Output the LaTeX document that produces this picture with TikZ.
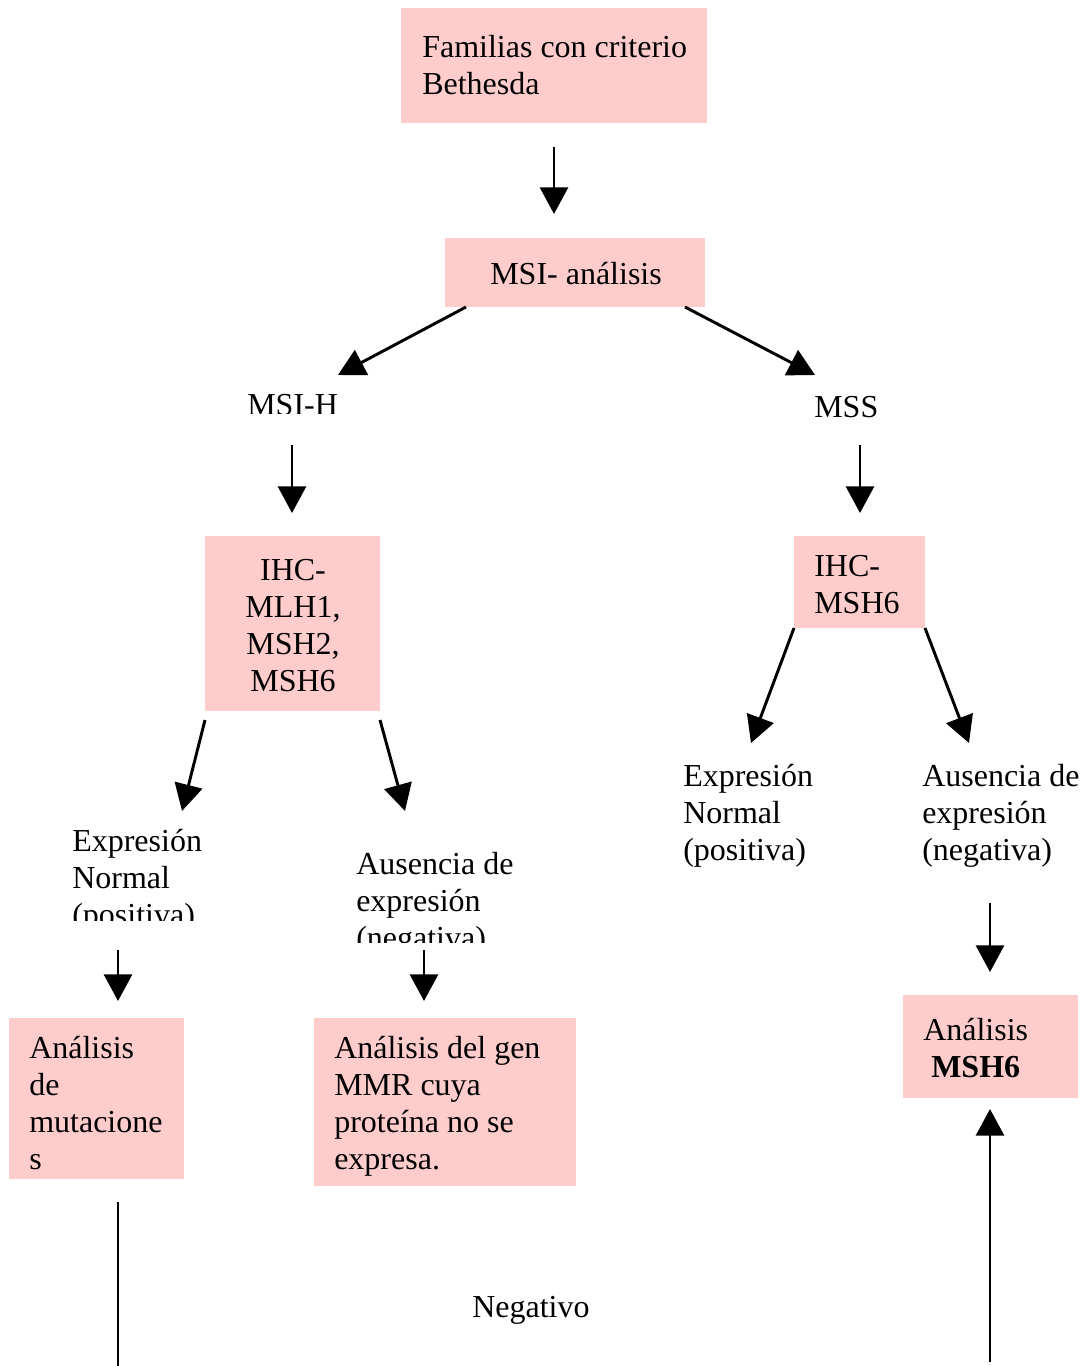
\documentclass[tikz,border=0pt]{standalone}
\usepackage{fontspec}
\setmainfont{Liberation Serif}
\usetikzlibrary{arrows.meta}
\definecolor{boxpink}{HTML}{FFCCCC}
\begin{document}
\begin{tikzpicture}[x=0.75pt,y=-0.75pt,
  pbox/.style={fill=boxpink,draw=none,inner sep=0pt,rectangle},
  txt/.style={inner sep=0pt,anchor=base west,font=\fontsize{24}{27.75}\selectfont},
  ctxt/.style={txt,anchor=base},
  arr/.style={line width=2.2pt,-{Triangle[length=20pt,width=21pt]}},
  plain/.style={line width=2.2pt}]
\useasboundingbox (0,0) rectangle (1085,1366);
% boxes
\path[pbox] (401,8) rectangle (707,123) node[pos=0.5] (b1) {};
\path[pbox] (445,238) rectangle (705,307) node[pos=0.5] (b2) {};
\path[pbox] (205,536) rectangle (380,711) node[pos=0.5] (b3) {};
\path[pbox] (794,536) rectangle (925,628) node[pos=0.5] (b4) {};
\path[pbox] (9,1018) rectangle (184,1179) node[pos=0.5] (b5) {};
\path[pbox] (314,1018) rectangle (576,1186) node[pos=0.5] (b6) {};
\path[pbox] (903,995) rectangle (1078,1098) node[pos=0.5] (b7) {};
% texts
\node[txt] (t1) at (422,58) {\begin{tabular}[t]{@{}l@{}}Familias con criterio\\Bethesda\end{tabular}};
\node[txt] (t2) at (490,284) {MSI- análisis};
\begin{scope}
\clip (230,380) rectangle (360,413);
\node[txt] (t3) at (247,415) {MSI-H};
\end{scope}
\node[txt] (t4) at (814,417) {MSS};
\node[ctxt] (t5) at (293,580) {\begin{tabular}[t]{@{}c@{}}IHC-\\MLH1,\\MSH2,\\MSH6\end{tabular}};
\node[txt] (t6) at (814,576) {\begin{tabular}[t]{@{}l@{}}IHC-\\MSH6\end{tabular}};
\begin{scope}
\clip (60,815) rectangle (240,920);
\node[txt] (t7) at (72,851) {\begin{tabular}[t]{@{}l@{}}Expresión\\Normal\\(positiva)\end{tabular}};
\end{scope}
\begin{scope}
\clip (340,835) rectangle (540,942);
\node[txt] (t8) at (356,874) {\begin{tabular}[t]{@{}l@{}}Ausencia de\\expresión\\(negativa)\end{tabular}};
\end{scope}
\node[txt] (t9) at (683,786) {\begin{tabular}[t]{@{}l@{}}Expresión\\Normal\\(positiva)\end{tabular}};
\node[txt] (t10) at (922,786) {\begin{tabular}[t]{@{}l@{}}Ausencia de\\expresión\\(negativa)\end{tabular}};
\node[txt] (t11) at (29,1058) {\begin{tabular}[t]{@{}l@{}}Análisis\\de\\mutacione\\s\end{tabular}};
\node[txt] (t12) at (334,1058) {\begin{tabular}[t]{@{}l@{}}Análisis del gen\\MMR cuya\\proteína no se\\expresa.\end{tabular}};
\node[txt] (t13) at (923,1040) {Análisis};
\node[txt] (t14) at (931,1077) {\textbf{MSH6}};
\node[txt] (t15) at (472,1317) {Negativo};
% connector end points
\coordinate (a1s) at (554,147); \coordinate (a1e) at (554,214);
\coordinate (a2s) at (466,307); \coordinate (a2e) at (338,375);
\coordinate (a3s) at (685,307); \coordinate (a3e) at (815,375);
\coordinate (a4s) at (292,445); \coordinate (a4e) at (292,513);
\coordinate (a5s) at (860,445); \coordinate (a5e) at (860,513);
\coordinate (a6s) at (205,720); \coordinate (a6e) at (182,811);
\coordinate (a7s) at (380,720); \coordinate (a7e) at (405,811);
\coordinate (a8s) at (794,628); \coordinate (a8e) at (751,743);
\coordinate (a9s) at (925,628); \coordinate (a9e) at (969,743);
\coordinate (a10s) at (118,950); \coordinate (a10e) at (118,1001);
\coordinate (a11s) at (424,950); \coordinate (a11e) at (424,1001);
\coordinate (a12s) at (990,903); \coordinate (a12e) at (990,972);
\coordinate (l1s) at (118,1202); \coordinate (l1e) at (118,1366);
\coordinate (a13s) at (990,1362); \coordinate (a13e) at (990,1109);
% connectors
\draw[arr] (a1s) -- (a1e);
\draw[arr] (a2s) -- (a2e);
\draw[arr] (a3s) -- (a3e);
\draw[arr] (a4s) -- (a4e);
\draw[arr] (a5s) -- (a5e);
\draw[arr] (a6s) -- (a6e);
\draw[arr] (a7s) -- (a7e);
\draw[arr] (a8s) -- (a8e);
\draw[arr] (a9s) -- (a9e);
\draw[arr] (a10s) -- (a10e);
\draw[arr] (a11s) -- (a11e);
\draw[arr] (a12s) -- (a12e);
\draw[plain] (l1s) -- (l1e);
\draw[arr] (a13s) -- (a13e);
\end{tikzpicture}
\end{document}
